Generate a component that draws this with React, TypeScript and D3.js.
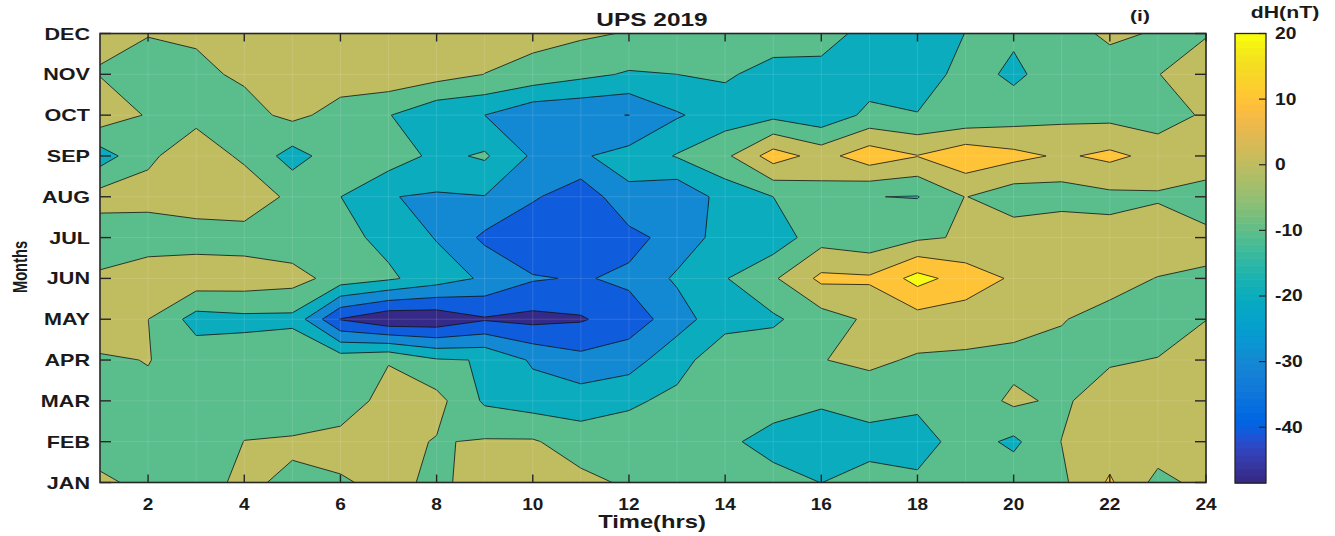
import React from 'react';
import * as d3 from 'd3';

// months (rows, bottom to top) and local time (columns)
const months = ['JAN', 'FEB', 'MAR', 'APR', 'MAY', 'JUN', 'JUL', 'AUG', 'SEP', 'OCT', 'NOV', 'DEC'];
const hours = [1, 2, 3, 4, 5, 6, 7, 8, 9, 10, 11, 12, 13, 14, 15, 16, 17, 18, 19, 20, 21, 22, 23, 24];
const hourTicks = [2, 4, 6, 8, 10, 12, 14, 16, 18, 20, 22, 24];
const cbarTicks = [-40, -30, -20, -10, 0, 10, 20];
const levels = [-40, -30, -20, -10, 0, 10, 20];

// dH (nT), hour 1..24
const jan = [2.5, -3.5, -2, 1.1, -1.2, -0.8, 1.9, -1.4, 2.8, 3, 2.7, -1.45, -5, -6, -6.8, -10.1, -6, -8.2, -6, -4, -1.9, 11.3, -3, 3.1];
const feb = [-6.4, -6, -5, 0.1, 1, 3, 3, -0.6, 0.9, 1, -5, -6.8, -7, -8.2, -13.3, -16, -13.8, -14, -5.8, -12, 0.2, 5, 5.6, 5];
const mar = [-5, -1.8, -4, -3, -6, -4.9, 3.3, 3.3, -11.5, -14.7, -15, -11, -8.5, -7, -6, -8.5, -5.7, -8, -6, 2, -1.9, 6.15, 5, 4];
const apr = [-1.3, 0.3, -4, -4.9, -1, -4, -0.5, -9, -10.5, -21.5, -27, -25, -12.3, -6.1, -4, -0.3, 2, -1.2, -1.8, -3, -2.1, -1.35, 0.5, 3];
const may = [6.8, 0.05, -14, -12.5, -12.6, -40.5, -48.3, -47.5, -41, -42.9, -41, -34.75, -25.4, -12.2, -11.55, -4.5, 1.65, 6, 5.2, 4, 0.4, -2.66, -6.6, -0.1];
const jun = [1.6, 7.2, 6.2, 5.7, 4, -4.2, -8.5, -14.8, -21.6, -29, -30.9, -28, -18.4, -10.55, -1.37, 12.3, 11.5, 23.5, 15.4, 8.65, 5, 3, -0.3, -0.56];
const jul = [-6, -6.4, -4.3, -4.7, -6.8, -7.4, -12.4, -20.6, -32, -39.5, -39, -33.2, -26, -15.7, -16, -4, -7, -1.7, 1.2, 6, 8.9, 3.2, 6.3, 1.3];
const aug = [4, 3.9, 5, 7.1, -2.5, -9.9, -19.7, -21, -20.3, -28.5, -37, -22, -28, -16, -10, -4, -9.8, -10.4, 0.3, -6, -5, -2.5, -1.2, -2.8];
const sep = [-14.9, -2, 6.3, -2, -14, -4.2, -4.4, -12.5, -8.7, -21.5, -21, -16.6, -9.3, -2.2, 14.7, 6.2, 15.9, 10.3, 17.2, 12.9, 8.6, 12.3, 7, 4];
const oct = [6.4, -0.9, -3, -3.5, 2.5, -3.6, -9.5, -18, -20, -28, -29, -30.1, -21, -15, -12.7, -17, -7.5, -9.5, -8.1, -5, -2.5, -3, -6, 1.8];
const nov = [-0.4, -5, -2, 1.5, 4, 4.6, 7, 4, -0.1, -3.25, -7.5, -11, -10, -8.7, -13.5, -12.4, -15, -16, -6, -11.9, -5.1, -3.9, -0.3, 6];
const dec = [1.3, 0.5, 1.2, 3, 4, 5, 5, 5, 4, 3, 1.5, -0.6, -3, -4, -5, -7, -12.4, -14, -9.9, -8.5, -3.3, 1.5, -0.7, -0.74];

const cMin = -48.5;
const cMax = 20;

// parula, 64 entries
const parula = [
  [0.2081, 0.1663, 0.5292], [0.2116, 0.1898, 0.5777], [0.2123, 0.2138, 0.627], [0.2081, 0.2386, 0.6771],
  [0.1959, 0.2645, 0.7279], [0.1707, 0.2919, 0.7792], [0.1253, 0.3242, 0.8303], [0.0591, 0.3598, 0.8683],
  [0.0117, 0.3875, 0.882], [0.006, 0.4086, 0.8828], [0.0165, 0.4266, 0.8786], [0.0329, 0.443, 0.872],
  [0.0498, 0.4586, 0.8641], [0.0629, 0.4737, 0.8554], [0.0723, 0.4887, 0.8467], [0.0779, 0.504, 0.8384],
  [0.0793, 0.52, 0.8312], [0.0749, 0.5375, 0.8263], [0.0641, 0.557, 0.824], [0.0488, 0.5772, 0.8228],
  [0.0343, 0.5966, 0.8199], [0.0265, 0.6137, 0.8135], [0.0239, 0.6287, 0.8038], [0.0231, 0.6418, 0.7913],
  [0.0228, 0.6535, 0.7768], [0.0267, 0.6642, 0.7607], [0.0384, 0.6743, 0.7436], [0.059, 0.6838, 0.7254],
  [0.0843, 0.6928, 0.7062], [0.1133, 0.7015, 0.6859], [0.1453, 0.7098, 0.6646], [0.1801, 0.7177, 0.6424],
  [0.2178, 0.725, 0.6193], [0.2586, 0.7317, 0.5954], [0.3022, 0.7376, 0.5712], [0.3482, 0.7424, 0.5473],
  [0.3953, 0.7459, 0.5244], [0.442, 0.7481, 0.5033], [0.4871, 0.7491, 0.484], [0.53, 0.7491, 0.4661],
  [0.5709, 0.7485, 0.4494], [0.6099, 0.7473, 0.4337], [0.6473, 0.7456, 0.4188], [0.6834, 0.7435, 0.4044],
  [0.7184, 0.7411, 0.3905], [0.7525, 0.7384, 0.3768], [0.7858, 0.7356, 0.3633], [0.8185, 0.7327, 0.3498],
  [0.8507, 0.7299, 0.336], [0.8824, 0.7274, 0.3217], [0.9139, 0.7258, 0.3063], [0.945, 0.7261, 0.2886],
  [0.9739, 0.7314, 0.2666], [0.9938, 0.7455, 0.2403], [0.999, 0.7653, 0.2164], [0.9955, 0.7861, 0.1967],
  [0.988, 0.8066, 0.1794], [0.9789, 0.8271, 0.1633], [0.9697, 0.8481, 0.1475], [0.9626, 0.8705, 0.1309],
  [0.9589, 0.8949, 0.1132], [0.9598, 0.9218, 0.0948], [0.9661, 0.9514, 0.0755], [0.9763, 0.9831, 0.0538],
].map(([r, g, b]) => d3.rgb(r * 255, g * 255, b * 255).formatHex());

const FONT = '"Liberation Sans", Arial, Helvetica, sans-serif';

function Label({ x, y, size, anchor = 'middle', sx = 1.35, children }: any) {
  return (
    <text
      transform={`translate(${x},${y}) scale(${sx},1)`}
      textAnchor={anchor}
      fontFamily={FONT}
      fontWeight="bold"
      fontSize={size}
      fill="#1a1a1a"
    >
      {children}
    </text>
  );
}

export default function App() {
  const width = 1335;
  const height = 536;
  const left = 100, right = 1206, top = 33.5, bottom = 482.5;

  const x = d3.scaleLinear().domain([1, 24]).range([left, right]);
  const y = d3.scalePoint().domain(months).range([bottom, top]);
  // contour grid coords: sample i sits at i + 0.5
  const xc = d3.scaleLinear().domain([0.5, hours.length - 0.5]).range([left, right]);
  const yc = d3.scaleLinear().domain([0.5, months.length - 0.5]).range([bottom, top]);

  const rows = [jan, feb, mar, apr, may, jun, jul, aug, sep, oct, nov, dec];
  const values = rows.flat();
  const contours = d3.contours().size([hours.length, months.length]).thresholds(levels)(values);

  const proj = d3.geoTransform({
    point(px: number, py: number) {
      this.stream.point(xc(px), yc(py));
    },
  });
  const path = d3.geoPath(proj);

  const colorIdx = d3.scaleQuantize<number>().domain([cMin, cMax]).range(d3.range(64));
  const colorOf = (v: number) => parula[colorIdx(v)];

  // colorbar
  const cbX = 1235, cbW = 31;
  const yb = d3.scaleLinear().domain([cMin, cMax]).range([bottom + 0.5, top]);
  const step = (cMax - cMin) / 64;

  const axisColor = '#262626';

  return (
    <div style={{ position: 'absolute', left: 0, top: 0 }}>
      <svg width={width} height={height} style={{ display: 'block', background: '#fff' }}>
        <defs>
          <clipPath id="plot-clip">
            <rect x={left} y={top} width={right - left} height={bottom - top} />
          </clipPath>
        </defs>

        <g clipPath="url(#plot-clip)">
          <rect x={left} y={top} width={right - left} height={bottom - top} fill={colorOf(cMin)} />
          {contours.map((c, i) => (
            <path key={i} d={path(c) || ''} fill={colorOf(c.value)} stroke="#111" strokeWidth={0.8} strokeLinejoin="round" />
          ))}
          {/* grid */}
          {hours.map((h) => (
            <line key={'gx' + h} x1={x(h)} x2={x(h)} y1={top} y2={bottom} stroke="#fff" strokeOpacity={0.18} strokeWidth={0.7} />
          ))}
          {months.map((m) => (
            <line key={'gy' + m} x1={left} x2={right} y1={y(m)} y2={y(m)} stroke="#fff" strokeOpacity={0.18} strokeWidth={0.7} />
          ))}
        </g>

        {/* axes box */}
        <rect x={left} y={top} width={right - left} height={bottom - top} fill="none" stroke={axisColor} strokeWidth={1.6} />
        {hourTicks.map((h) => (
          <g key={'tx' + h}>
            <line x1={x(h)} x2={x(h)} y1={bottom} y2={bottom - 8} stroke={axisColor} strokeWidth={1.4} />
            <line x1={x(h)} x2={x(h)} y1={top} y2={top + 8} stroke={axisColor} strokeWidth={1.4} />
            <Label x={x(h)} y={510} size={17} sx={1.12}>{h}</Label>
          </g>
        ))}
        {months.map((m) => (
          <g key={'ty' + m}>
            <line x1={left} x2={left + 11} y1={y(m)} y2={y(m)} stroke={axisColor} strokeWidth={1.4} />
            <line x1={right} x2={right - 11} y1={y(m)} y2={y(m)} stroke={axisColor} strokeWidth={1.4} />
            <Label x={90} y={(y(m) as number) + 6} size={16} sx={1.35} anchor="end">{m}</Label>
          </g>
        ))}

        <Label x={652} y={528} size={19} sx={1.25}>Time(hrs)</Label>
        <text
          transform="translate(27,267) rotate(-90) scale(0.7,1)"
          textAnchor="middle"
          fontFamily={FONT}
          fontWeight="bold"
          fontSize={21}
          fill="#1a1a1a"
        >
          Months
        </text>
        <Label x={652} y={26} size={18.5} sx={1.32}>UPS 2019</Label>
        <Label x={1140} y={21} size={15} sx={1.4}>(i)</Label>

        {/* colorbar */}
        {d3.range(64).map((i) => (
          <rect
            key={'cb' + i}
            x={cbX}
            y={yb(cMin + (i + 1) * step)}
            width={cbW}
            height={yb(cMin + i * step) - yb(cMin + (i + 1) * step) + 0.6}
            fill={parula[i]}
          />
        ))}
        <rect x={cbX} y={top} width={cbW} height={bottom + 0.5 - top} fill="none" stroke={axisColor} strokeWidth={1.3} />
        {cbarTicks.map((t) => (
          <g key={'cbt' + t}>
            <line x1={cbX + cbW} x2={cbX + cbW - 7} y1={yb(t)} y2={yb(t)} stroke={axisColor} strokeWidth={1.2} />
            <Label x={1275} y={yb(t) + 5.5} size={16} sx={1.2} anchor="start">{t}</Label>
          </g>
        ))}
        <Label x={1285} y={18} size={16} sx={1.33}>dH(nT)</Label>
      </svg>
    </div>
  );
}
